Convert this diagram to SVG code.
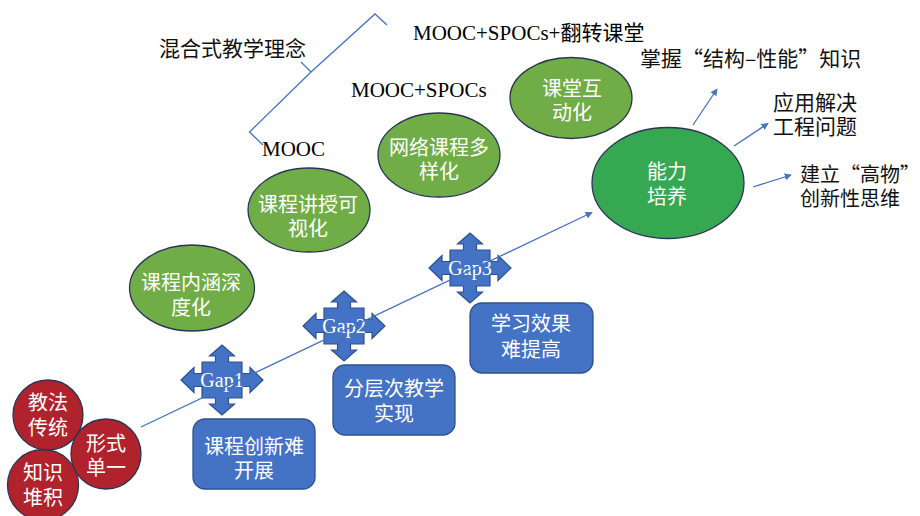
<svg xmlns="http://www.w3.org/2000/svg" xmlns:xlink="http://www.w3.org/1999/xlink" width="920" height="516" viewBox="0 0 920 516">
<style>
.zh{font-family:"Noto Sans CJK SC",sans-serif;font-size:20px;}
.zh1{font-family:"Noto Sans CJK SC",sans-serif;font-size:21px;}
.lat{font-family:"Liberation Serif","Noto Sans CJK SC",serif;font-size:21px;fill:#000;}
.w{fill:#fff;text-anchor:middle;}
.k{fill:#111;}
.gap{font-family:"Liberation Serif",serif;font-size:20px;fill:#fff;text-anchor:middle;}
.red{fill:#B0232C;stroke:#2A3556;stroke-width:1.3;}
.olive{fill:#70AD47;stroke:#2A3556;stroke-width:1.3;}
.big{fill:#36A852;stroke:#2A3556;stroke-width:1.3;}
.box{fill:#4472C4;stroke:#2F528F;stroke-width:1.3;}
.quad{fill:#4472C4;stroke:#2F528F;stroke-width:1.2;}
.conn{fill:none;stroke:#4472C4;stroke-width:1.3;}
</style>
<defs>
<marker id="ah" viewBox="0 0 10 10" refX="9" refY="5" markerWidth="7" markerHeight="7" markerUnits="userSpaceOnUse" orient="auto">
<path d="M0,0 L10,5 L0,10 Z" fill="#4472C4"/>
</marker>
<path id="quadShape" d="M0,-35 L12.5,-24 L6.5,-24 L6.5,-18 L20,-18 L20,-6.5 L28,-6.5 L28,-12.5 L41,0 L28,12.5 L28,6.5 L20,6.5 L20,18 L6.5,18 L6.5,24 L12.5,24 L0,35 L-12.5,24 L-6.5,24 L-6.5,18 L-20,18 L-20,6.5 L-28,6.5 L-28,12.5 L-41,0 L-28,-12.5 L-28,-6.5 L-20,-6.5 L-20,-18 L-6.5,-18 L-6.5,-24 L-12.5,-24 Z"/>
</defs>

<g id="label-concept">
<text class="zh1 k" x="159" y="56">混合式教学理念</text>
</g>
<g id="label-mooc"><text class="lat" x="262" y="156">MOOC</text></g>
<g id="label-mooc-spocs"><text class="lat" x="351" y="97">MOOC+SPOCs</text></g>
<g id="label-mooc-spocs-flip"><text class="lat" x="413" y="40">MOOC+SPOCs+翻转课堂</text></g>

<g id="red-1"><circle class="red" cx="48" cy="415" r="35"/>
<text class="zh w" x="48" y="410">教法</text><text class="zh w" x="48" y="435">传统</text></g>
<g id="red-3"><circle class="red" cx="43" cy="485" r="35.5"/>
<text class="zh w" x="43" y="480">知识</text><text class="zh w" x="43" y="505">堆积</text></g>
<g id="red-2"><circle class="red" cx="106" cy="454" r="35"/>
<text class="zh w" x="106" y="451">形式</text><text class="zh w" x="106" y="475">单一</text></g>

<g id="ell-1"><ellipse class="olive" cx="192" cy="288" rx="62.5" ry="43"/>
<text class="zh w" x="191" y="290">课程内涵深</text><text class="zh w" x="191" y="315">度化</text></g>
<g id="ell-2"><ellipse class="olive" cx="309" cy="210" rx="61" ry="42"/>
<text class="zh w" x="308" y="212">课程讲授可</text><text class="zh w" x="308" y="236">视化</text></g>
<g id="ell-3"><ellipse class="olive" cx="439" cy="155" rx="61" ry="42"/>
<text class="zh w" x="439" y="155">网络课程多</text><text class="zh w" x="439" y="179">样化</text></g>
<g id="ell-4"><ellipse class="olive" cx="571" cy="98" rx="61" ry="40.5"/>
<text class="zh w" x="572" y="96">课堂互</text><text class="zh w" x="572" y="120">动化</text></g>

<g id="ability"><ellipse class="big" cx="668" cy="183" rx="76" ry="55.5"/>
<text class="zh w" x="667" y="179">能力</text><text class="zh w" x="667" y="204">培养</text></g>

<g id="out-1"><text class="zh1 k" x="640" y="66">掌握“结构–性能”知识</text></g>
<g id="out-2"><text class="zh1 k" x="773" y="110">应用解决</text><text class="zh1 k" x="773" y="134">工程问题</text></g>
<g id="out-3"><text class="zh k" x="800" y="182">建立“高物”</text><text class="zh k" x="800" y="206">创新性思维</text></g>

<g id="box-1"><rect class="box" x="193" y="419" width="122" height="70" rx="12"/>
<text class="zh w" x="254" y="454">课程创新难</text><text class="zh w" x="254" y="478">开展</text></g>
<g id="box-2"><rect class="box" x="333" y="365" width="122" height="70" rx="12"/>
<text class="zh w" x="394" y="396">分层次教学</text><text class="zh w" x="394" y="421">实现</text></g>
<g id="box-3"><rect class="box" x="470" y="303" width="123" height="70" rx="12"/>
<text class="zh w" x="531" y="331">学习效果</text><text class="zh w" x="531" y="357">难提高</text></g>

<g id="gap-1"><use xlink:href="#quadShape" href="#quadShape" class="quad" transform="translate(222,380)"/>
<text class="gap" x="222" y="387">Gap1</text></g>
<g id="gap-2"><use xlink:href="#quadShape" href="#quadShape" class="quad" transform="translate(344,326)"/>
<text class="gap" x="344" y="333">Gap2</text></g>
<g id="gap-3"><use xlink:href="#quadShape" href="#quadShape" class="quad" transform="translate(470,268)"/>
<text class="gap" x="470" y="275">Gap3</text></g>

<g id="connectors">
<path class="conn" d="M263,145 L249.5,132 L311,72 L375,14 L387,25 M311,72 L301,62"/>
<line class="conn" x1="141" y1="427" x2="592" y2="212.5" marker-end="url(#ah)"/>
<line class="conn" x1="693" y1="125" x2="717" y2="89" marker-end="url(#ah)"/>
<line class="conn" x1="734" y1="146" x2="768" y2="123.5" marker-end="url(#ah)"/>
<line class="conn" x1="753" y1="187" x2="791" y2="175" marker-end="url(#ah)"/>
</g>
</svg>
